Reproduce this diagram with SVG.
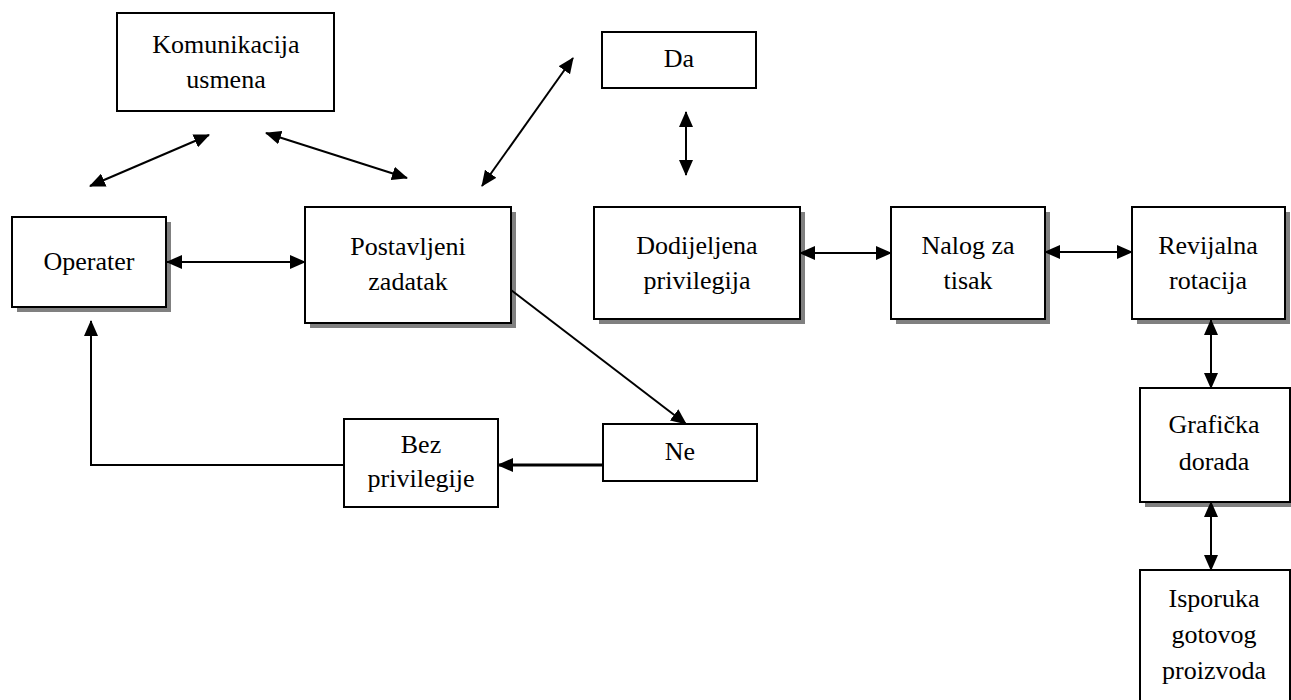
<svg xmlns="http://www.w3.org/2000/svg" width="1291" height="700" viewBox="0 0 1291 700">
<defs>
<style>
.box{fill:#fff;stroke:#000;stroke-width:2}
.sh{fill:#808080}
.t{font-family:"Liberation Serif","Times New Roman",serif;font-size:26px;fill:#000;text-anchor:middle}
.c{fill:none;stroke:#000;stroke-width:2}
.c3{fill:none;stroke:#000;stroke-width:3}
</style>
<marker id="a" viewBox="0 0 16 14" markerWidth="16" markerHeight="14" refX="15" refY="7" orient="auto-start-reverse" markerUnits="userSpaceOnUse">
<path d="M0,0 L16,7 L0,14 z" fill="#000"/>
</marker>
</defs>
<rect width="1291" height="700" fill="#fff"/>

<g id="komunikacija">
<rect class="box" x="117" y="13" width="217" height="98"/>
<text class="t" x="226" y="53">Komunikacija</text>
<text class="t" x="226" y="88">usmena</text>
</g>
<g id="da">
<rect class="box" x="602" y="32" width="154" height="56"/>
<text class="t" x="679" y="67">Da</text>
</g>
<g id="operater">
<rect class="sh" x="17" y="222" width="154" height="90"/>
<rect class="box" x="12" y="217" width="154" height="90"/>
<text class="t" x="89" y="270">Operater</text>
</g>
<g id="postavljeni">
<rect class="sh" x="310" y="212" width="206" height="116"/>
<rect class="box" x="305" y="207" width="206" height="116"/>
<text class="t" x="408" y="255">Postavljeni</text>
<text class="t" x="408" y="290">zadatak</text>
</g>
<g id="dodijeljena">
<rect class="sh" x="599" y="212" width="206" height="112"/>
<rect class="box" x="594" y="207" width="206" height="112"/>
<text class="t" x="697" y="254">Dodijeljena</text>
<text class="t" x="697" y="289">privilegija</text>
</g>
<g id="nalog">
<rect class="sh" x="896" y="212" width="154" height="112"/>
<rect class="box" x="891" y="207" width="154" height="112"/>
<text class="t" x="968" y="254">Nalog za</text>
<text class="t" x="968" y="289">tisak</text>
</g>
<g id="revijalna">
<rect class="sh" x="1137" y="212" width="153" height="112"/>
<rect class="box" x="1132" y="207" width="153" height="112"/>
<text class="t" x="1208" y="254">Revijalna</text>
<text class="t" x="1208" y="289">rotacija</text>
</g>
<g id="graficka">
<rect class="sh" x="1145" y="393" width="150" height="114"/>
<rect class="box" x="1140" y="388" width="150" height="114"/>
<text class="t" x="1214" y="433">Grafička</text>
<text class="t" x="1214" y="470">dorada</text>
</g>
<g id="isporuka">
<rect class="box" x="1140" y="570" width="150" height="140"/>
<text class="t" x="1214" y="607">Isporuka</text>
<text class="t" x="1214" y="643">gotovog</text>
<text class="t" x="1214" y="679">proizvoda</text>
</g>
<g id="ne">
<rect class="box" x="603" y="424" width="154" height="57"/>
<text class="t" x="680" y="460">Ne</text>
</g>
<g id="bez">
<rect class="box" x="344" y="419" width="154" height="88"/>
<text class="t" x="421" y="453">Bez</text>
<text class="t" x="421" y="487">privilegije</text>
</g>

<g id="connectors">
<line class="c" x1="90" y1="186" x2="209" y2="135" marker-start="url(#a)" marker-end="url(#a)"/>
<line class="c" x1="266" y1="133" x2="407" y2="178" marker-start="url(#a)" marker-end="url(#a)"/>
<line class="c" x1="482" y1="186" x2="573" y2="58" marker-start="url(#a)" marker-end="url(#a)"/>
<line class="c" x1="686" y1="112" x2="686" y2="175" marker-start="url(#a)" marker-end="url(#a)"/>
<line class="c" x1="167" y1="262" x2="305" y2="262" marker-start="url(#a)" marker-end="url(#a)"/>
<line class="c" x1="800" y1="253" x2="891" y2="253" marker-start="url(#a)" marker-end="url(#a)"/>
<line class="c" x1="1045" y1="252" x2="1132" y2="252" marker-start="url(#a)" marker-end="url(#a)"/>
<line class="c" x1="1211" y1="320" x2="1211" y2="388" marker-start="url(#a)" marker-end="url(#a)"/>
<line class="c" x1="1211" y1="502" x2="1211" y2="570" marker-start="url(#a)" marker-end="url(#a)"/>
<line class="c" x1="511" y1="290" x2="686" y2="424" marker-end="url(#a)"/>
<line class="c3" x1="603" y1="465" x2="498" y2="465" marker-end="url(#a)"/>
<polyline class="c" points="344,465 91,465 91,321" marker-end="url(#a)"/>
</g>
</svg>
